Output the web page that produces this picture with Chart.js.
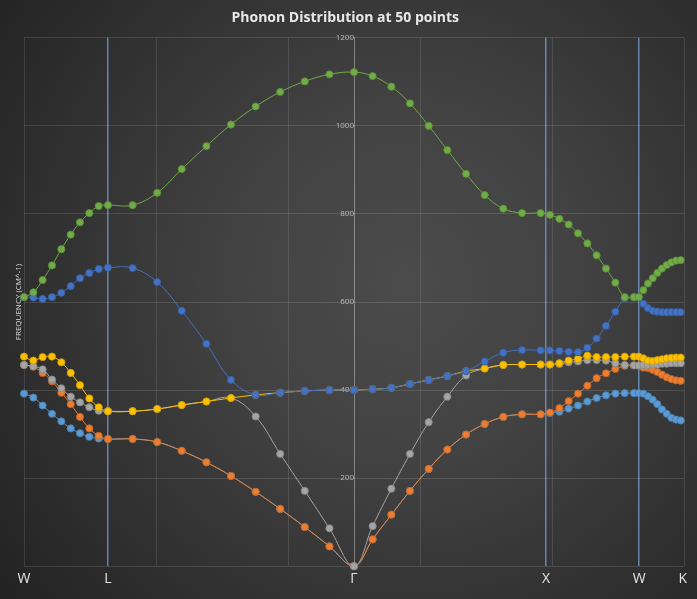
<!DOCTYPE html>
<html>
<head>
<meta charset="utf-8">
<title>Phonon Distribution at 50 points</title>
<script src="https://cdn.jsdelivr.net/npm/chart.js@4.4.1/dist/chart.umd.min.js"></script>
<style>
  html, body { margin: 0; padding: 0; }
  body {
    width: 697px;
    height: 599px;
    overflow: hidden;
    background: radial-gradient(ellipse 72% 85% at 58% 47%, #4b4b4b 0%, #424242 35%, #2d2d2d 78%, #232323 100%);
  }
  #wrap { position: relative; width: 697px; height: 599px; }
</style>
</head>
<body>
<div id="wrap"><canvas id="phononChart"></canvas></div>
<script>
// k-path coordinate of each of the 50 points (W -> L -> Γ -> X -> W -> K)
const kPath = [
  -2.500, -2.429, -2.359, -2.288, -2.217, -2.146, -2.076, -2.005, -1.934, -1.864,
  -1.677, -1.491, -1.305, -1.118, -0.932, -0.745, -0.559, -0.373, -0.186, 0.000,
   0.141,  0.283,  0.424,  0.566,  0.707,  0.849,  0.990,  1.131,  1.273,  1.414,
   1.485,  1.556,  1.626,  1.697,  1.768,  1.838,  1.909,  1.980,  2.051,  2.121,
   2.157,  2.192,  2.227,  2.263,  2.298,  2.333,  2.369,  2.404,  2.440,  2.475
];

// frequencies (cm^-1), one array per band
const band1 = [
  392, 383, 365, 346, 329, 313, 302, 294, 290, 289,
  289, 282, 262, 236, 205, 169, 130, 89, 45, 0,
  61, 117, 171, 221, 265, 299, 323, 339, 345, 345,
  348, 351, 358, 365, 374, 382, 388, 392, 393, 393,
  393, 392, 386, 378, 368, 356, 346, 337, 333, 331
];
const band2 = [
  457, 453, 439, 420, 394, 368, 339, 313, 296, 289,
  289, 282, 262, 236, 205, 169, 130, 89, 45, 0,
  61, 117, 171, 221, 265, 299, 323, 339, 345, 345,
  349, 359, 375, 392, 410, 427, 438, 448, 455, 456,
  455, 451, 450, 446, 441, 435, 429, 425, 422, 421
];
const band3 = [
  457, 454, 447, 424, 404, 385, 372, 361, 353, 352,
  352, 357, 366, 374, 382, 340, 255, 171, 86, 0,
  91, 176, 255, 327, 385, 433, 449, 457, 458, 458,
  458, 459, 463, 465, 468, 468, 467, 461, 457, 456,
  456, 457, 457, 458, 458, 460, 460, 461, 461, 461
];
const band4 = [
  476, 467, 475, 476, 463, 439, 411, 381, 361, 352,
  352, 357, 366, 374, 382, 389, 394, 398, 400, 400,
  402, 405, 414, 423, 432, 443, 449, 457, 458, 458,
  458, 461, 467, 471, 478, 475, 475, 475, 476, 476,
  476, 472, 467, 466, 468, 470, 472, 473, 474, 474
];
const band5 = [
  611, 610, 607, 611, 621, 636, 654, 666, 675, 678,
  677, 645, 580, 505, 423, 389, 394, 398, 400, 400,
  402, 405, 414, 423, 432, 443, 465, 485, 491, 490,
  490, 489, 487, 486, 496, 517, 546, 578, 608, 610,
  610, 596, 586, 580, 578, 577, 577, 577, 577, 577
];
const band6 = [
  611, 622, 650, 683, 720, 753, 781, 802, 818, 820,
  820, 848, 902, 954, 1003, 1044, 1077, 1101, 1117, 1122,
  1113, 1089, 1051, 1000, 945, 891, 843, 812, 802, 802,
  798, 789, 776, 756, 733, 706, 676, 644, 611, 611,
  611, 627, 642, 654, 666, 676, 684, 690, 694, 695
];

// symmetry points along the path
const symLabels = ['W', 'L', 'Γ', 'X', 'W', 'K'];
const symPos = [-2.5, -1.864, 0, 1.4545, 2.16, 2.49];
const markedPoints = ['L', 'X', 'W'];   // drawn with a blue vertical line (not the first W)
const gridPos = [-2.5, -1.5, -0.5, 0.5, 1.5, 2.5];
const yTickValues = [0, 200, 400, 600, 800, 1000, 1200];

const bands = [band1, band2, band3, band4, band5, band6];
const bandNames = ['Band 1', 'Band 2', 'Band 3', 'Band 4', 'Band 5', 'Band 6'];
const bandColors = ['#5B9BD5', '#ED7D31', '#A5A5A5', '#FFC000', '#4472C4', '#70AD47'];

function darker(hex, f) {
  const n = parseInt(hex.slice(1), 16);
  const r = Math.round(((n >> 16) & 255) * f);
  const g = Math.round(((n >> 8) & 255) * f);
  const b = Math.round((n & 255) * f);
  return `rgb(${r},${g},${b})`;
}

function near(a, b) { return Math.abs(a - b) < 1e-6; }

function symIndex(v) {
  return symPos.findIndex(p => near(p, v));
}

const xTickValues = symPos.concat(gridPos.filter(g => symIndex(g) < 0)).sort((a, b) => a - b);

Chart.defaults.font.family = '"Open Sans", "Noto Sans", "DejaVu Sans", sans-serif';

const datasets = bands.map((vals, i) => ({
  label: bandNames[i],
  data: kPath.map((k, j) => ({ x: k, y: vals[j] })),
  borderColor: bandColors[i],
  backgroundColor: bandColors[i],
  pointBackgroundColor: bandColors[i],
  pointBorderColor: darker(bandColors[i], 0.8),
  borderWidth: 1,
  pointRadius: 3.6,
  pointBorderWidth: 0.8,
  tension: 0.4,
  clip: false,
  order: bands.length - i   // later bands are drawn on top, like the original
}));

const ctx = document.getElementById('phononChart').getContext('2d');
const chart = new Chart(ctx, {
  type: 'line',
  data: { datasets: datasets },
  options: {
    responsive: true,
    maintainAspectRatio: false,
    animation: false,
    layout: { padding: { left: 6.4, right: 13, top: 0, bottom: 8 } },
    plugins: {
      legend: { display: false },
      tooltip: { enabled: false },
      title: {
        display: true,
        text: 'Phonon Distribution at 50 points',
        color: '#e8e8e8',
        font: { size: 14, weight: 'bold' },
        padding: { top: 10, bottom: 11 }
      }
    },
    scales: {
      x: {
        type: 'linear',
        min: -2.5,
        max: 2.5,
        afterBuildTicks: axis => { axis.ticks = xTickValues.map(v => ({ value: v })); },
        ticks: {
          autoSkip: false,
          maxRotation: 0,
          padding: 4,
          color: '#e4e4e4',
          font: { size: 14 },
          callback: v => {
            const i = symIndex(v);
            return i >= 0 ? symLabels[i] : '';
          }
        },
        grid: {
          drawTicks: false,
          color: c => {
            const v = c.tick ? c.tick.value : null;
            const i = symIndex(v);
            if (i > 0 && markedPoints.includes(symLabels[i])) return 'rgba(118,160,212,0.75)';
            if (gridPos.some(g => near(g, v))) return 'rgba(255,255,255,0.11)';
            return 'rgba(0,0,0,0)';
          },
          lineWidth: c => {
            const i = symIndex(c.tick ? c.tick.value : null);
            return (i > 0 && markedPoints.includes(symLabels[i])) ? 1.5 : 1;
          }
        },
        border: { display: false }
      },
      y: {
        type: 'linear',
        min: 0,
        max: 1200,
        position: { x: 0 },
        afterBuildTicks: axis => { axis.ticks = yTickValues.map(v => ({ value: v })); },
        ticks: { color: '#bdbdbd', font: { size: 8 }, padding: 5, callback: v => String(v) },
        grid: { drawTicks: false, color: 'rgba(255,255,255,0.12)' },
        border: { display: true, color: 'rgba(215,215,215,0.45)', width: 1 }
      },
      yTitle: {
        type: 'linear',
        position: 'left',
        display: true,
        ticks: { display: false },
        grid: { display: false, drawTicks: false },
        border: { display: false },
        title: {
          display: true,
          text: 'FREQUENCY (CM^-1)',
          color: '#d9d9d9',
          font: { size: 8 },
          padding: { top: 8, bottom: 0 }
        }
      }
    }
  }
});
window.phononChart = chart;
</script>
</body>
</html>
